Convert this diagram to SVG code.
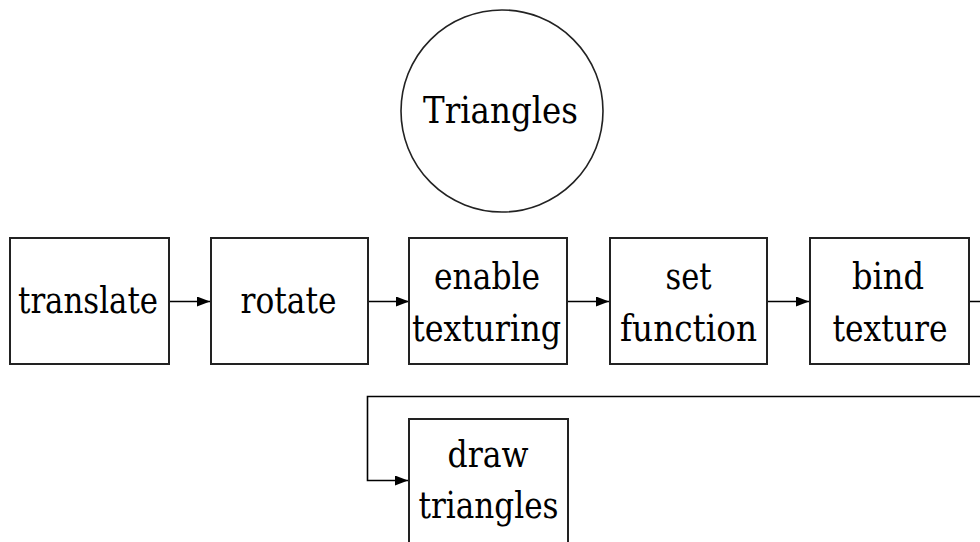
<svg xmlns="http://www.w3.org/2000/svg" width="980" height="542" viewBox="0 0 980 542">
<style>
.box{fill:#fff;stroke:#222;stroke-width:2}
.c{fill:#fff;stroke:#222;stroke-width:1.6}
.t{font-family:"DejaVu Serif","Liberation Serif",serif;font-size:37px;fill:#000;text-anchor:middle}
.e{fill:none;stroke:#000;stroke-width:1.6}
</style>
<defs>
<marker id="ah" markerWidth="13" markerHeight="10" refX="13" refY="5" orient="auto" markerUnits="userSpaceOnUse">
<path d="M0,0 L13,5 L0,10 Z" fill="#000"/>
</marker>
</defs>
<rect width="980" height="542" fill="#fff"/>
<g id="connectors">
<path class="e" d="M169,301.5 H210" marker-end="url(#ah)"/>
<path class="e" d="M368,301.5 H409" marker-end="url(#ah)"/>
<path class="e" d="M567,301.5 H609" marker-end="url(#ah)"/>
<path class="e" d="M767,301.5 H809" marker-end="url(#ah)"/>
<path class="e" d="M969,301.5 H990 V396.5 H367.5 V480.5 H408" marker-end="url(#ah)"/>
</g>
<g id="node-triangles">
<circle class="c" cx="502" cy="111" r="101"/>
<text class="t" x="500.5" y="123" textLength="155" lengthAdjust="spacingAndGlyphs">Triangles</text>
</g>
<g id="node-translate">
<rect class="box" x="10" y="238" width="159" height="126"/>
<text class="t" x="88" y="313" textLength="140" lengthAdjust="spacingAndGlyphs">translate</text>
</g>
<g id="node-rotate">
<rect class="box" x="211" y="238" width="157" height="126"/>
<text class="t" x="288.5" y="313" textLength="96" lengthAdjust="spacingAndGlyphs">rotate</text>
</g>
<g id="node-enable">
<rect class="box" x="409" y="238" width="158" height="126"/>
<text class="t" x="487" y="289" textLength="106" lengthAdjust="spacingAndGlyphs">enable</text>
<text class="t" x="486.5" y="341" textLength="149" lengthAdjust="spacingAndGlyphs">texturing</text>
</g>
<g id="node-setfunction">
<rect class="box" x="610" y="238" width="157" height="126"/>
<text class="t" x="688.5" y="289" textLength="46" lengthAdjust="spacingAndGlyphs">set</text>
<text class="t" x="688.5" y="341" textLength="137" lengthAdjust="spacingAndGlyphs">function</text>
</g>
<g id="node-bindtexture">
<rect class="box" x="810" y="238" width="159" height="126"/>
<text class="t" x="888" y="289" textLength="72" lengthAdjust="spacingAndGlyphs">bind</text>
<text class="t" x="890" y="341" textLength="115" lengthAdjust="spacingAndGlyphs">texture</text>
</g>
<g id="node-drawtriangles">
<rect class="box" x="409" y="419" width="159" height="130"/>
<text class="t" x="488" y="467" textLength="81" lengthAdjust="spacingAndGlyphs">draw</text>
<text class="t" x="488.5" y="518" textLength="140" lengthAdjust="spacingAndGlyphs">triangles</text>
</g>
</svg>
